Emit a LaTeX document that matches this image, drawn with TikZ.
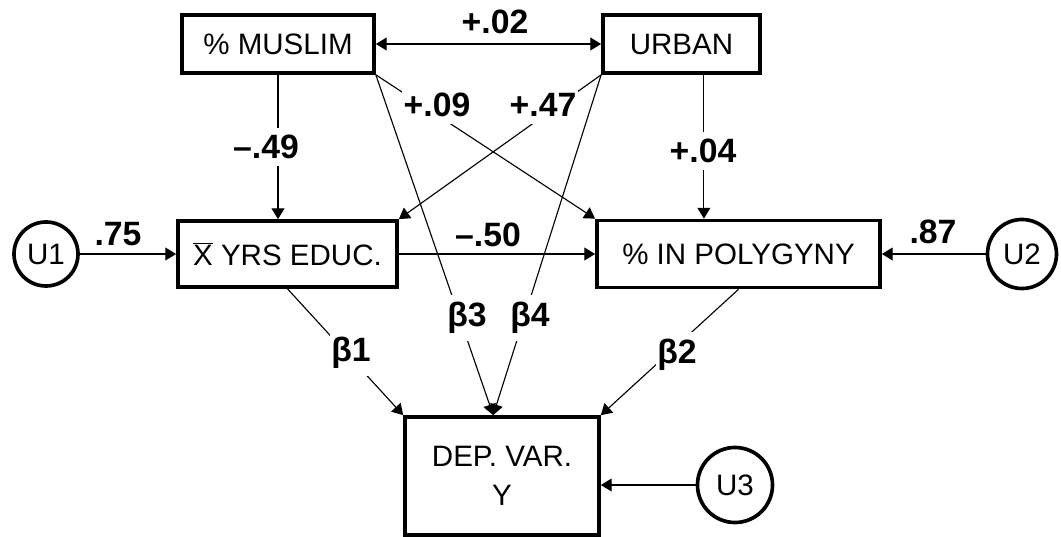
\documentclass[tikz,border=0pt]{standalone}
\usepackage{fontspec}
\setmainfont{Liberation Sans}
\usetikzlibrary{arrows.meta}

\begin{document}
\begin{tikzpicture}[x=0.025cm,y=-0.025cm,
        >={Triangle[length=0.27cm,width=0.32cm]},
        box/.style={draw,line width=2.6pt,inner sep=0pt,align=center,font=\fontsize{21}{28}\selectfont},
        err/.style={draw,circle,line width=2.6pt,inner sep=0pt,font=\fontsize{21}{25}\selectfont},
        link/.style={line width=0.8pt,->},
        coef/.style={inner sep=1pt,font=\bfseries\fontsize{24}{28}\selectfont},
        gapcoef/.style={coef,fill=white,inner ysep=5pt}]
        \useasboundingbox (0,0) rectangle (1061,537);

        \node[box,minimum width=4.8cm,minimum height=1.45cm] (muslim) at (278,44) {\% MUSLIM};
        \node[box,minimum width=3.925cm,minimum height=1.45cm] (urban) at (681.5,44) {URBAN};
        \node[box,minimum width=5.475cm,minimum height=1.65cm] (educ) at (287.5,254) {$\overline{\mbox{X}}$ YRS EDUC.};
        \node[box,minimum width=7.075cm,minimum height=1.675cm] (poly) at (738.5,254) {\% IN POLYGYNY};
        \node[box,minimum width=4.85cm,minimum height=2.95cm] (dep) at (502,476) {DEP. VAR.\\Y};

        \node[err,minimum size=1.6cm] (u1) at (46,254) {U1};
        \node[err,minimum size=1.725cm] (u2) at (1022,254) {U2};
        \node[err,minimum size=1.875cm] (u3) at (735,485) {U3};

        % paths
        \draw[link,<->] (muslim) -- (urban);
        \draw[link] (muslim.south) -- (muslim.south |- educ.north);
        \draw[link] ([xshift=0.56cm]urban.south) -- ([xshift=0.56cm]urban.south |- poly.north);
        \draw[link] (muslim.south east) -- (poly.north west);
        \draw[link] (urban.south west) -- (educ.north east);
        \draw[link] (muslim.south east) -- ([xshift=-0.22cm]dep.north);
        \draw[link] (urban.south west) -- ([xshift=-0.22cm]dep.north);
        \draw[link] (u1) -- (educ);
        \draw[link] (educ) -- (poly);
        \draw[link] (u2) -- (poly);
        \draw[link] (educ.south) -- (dep.north west);
        \draw[link] (poly.south) -- (dep.north east);
        \draw[link] (u3) -- (u3 -| dep.east);

        \node[coef] (l02) at (495,22) {+.02};
        \node[gapcoef] (l49) at (266,147) {–.49};
        \node[gapcoef] (l04) at (703,151) {+.04};
        \node[gapcoef] (l09) at (437,105) {+.09};
        \node[gapcoef] (l47) at (543,105) {+.47};
        \node[coef] (l75) at (118,234) {.75};
        \node[coef] (l50) at (488,235) {–.50};
        \node[coef] (l87) at (933,232) {.87};
        \node[gapcoef] (lb3) at (467,318) {β3};
        \node[gapcoef] (lb4) at (530,318) {β4};
        \node[gapcoef] (lb1) at (351,353) {β1};
        \node[gapcoef] (lb2) at (677,355) {β2};
\end{tikzpicture}
\end{document}
